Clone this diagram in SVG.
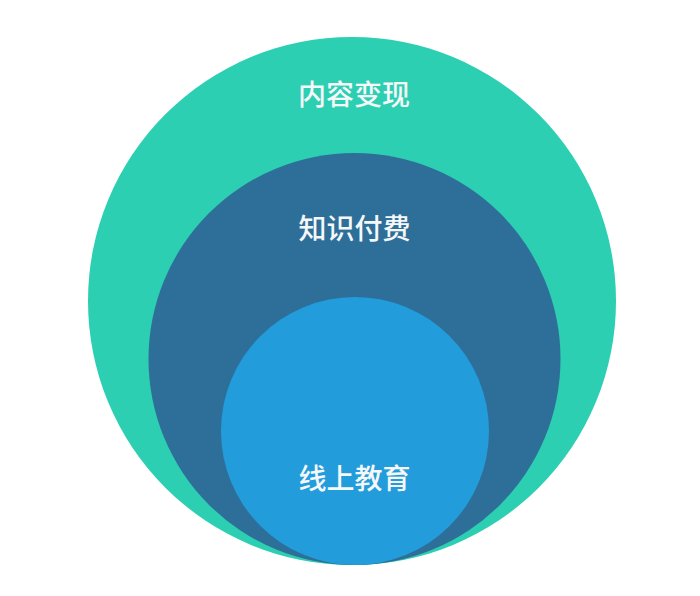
<svg xmlns="http://www.w3.org/2000/svg" width="700" height="596" viewBox="0 0 700 596">
<style>
.lbl{font-family:"Noto Sans CJK SC","Noto Sans",sans-serif;font-size:28px;font-weight:500;fill:#f5f7f8;text-anchor:middle}
</style>
<rect width="700" height="596" fill="#ffffff"/>
<g id="outer">
<circle cx="352" cy="301" r="264" fill="#2dcfb2"/>
<text class="lbl" x="354" y="105">内容变现</text>
</g>
<g id="middle">
<circle cx="354.5" cy="359" r="206" fill="#2d6f98"/>
<text class="lbl" x="354.5" y="239">知识付费</text>
</g>
<g id="inner">
<circle cx="355" cy="431" r="134" fill="#239cdc"/>
<text class="lbl" x="354.5" y="489">线上教育</text>
</g>
<g id="connectors"></g>
</svg>
